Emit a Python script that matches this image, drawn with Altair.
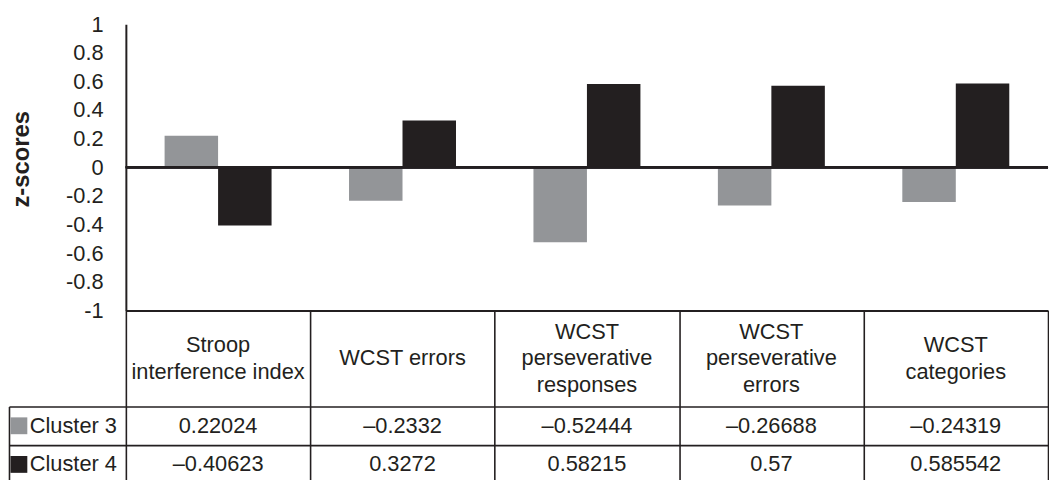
import altair as alt
import pandas as pd

# ---- data ----
categories = [
    "Stroop\ninterference index",
    "WCST errors",
    "WCST\nperseverative\nresponses",
    "WCST\nperseverative\nerrors",
    "WCST\ncategories",
]
clusters = ["Cluster 3", "Cluster 4"]
cluster3 = [0.22024, -0.2332, -0.52444, -0.26688, -0.24319]
cluster4 = [-0.40623, 0.3272, 0.58215, 0.57, 0.585542]
y_ticks = [1, 0.8, 0.6, 0.4, 0.2, 0, -0.2, -0.4, -0.6, -0.8, -1]

GRAY = "#939598"
BLACK = "#231f20"
LINE = "#231f20"
FONT = "Liberation Sans"

rows = []
for c, v3, v4 in zip(categories, cluster3, cluster4):
    rows.append({"cat": c, "cluster": "Cluster 3", "value": v3,
                 "label": str(v3).replace("-", "\u2013")})
    rows.append({"cat": c, "cluster": "Cluster 4", "value": v4,
                 "label": str(v4).replace("-", "\u2013")})
df = pd.DataFrame(rows)

# header: one record per text line, centred as a block in its cell
head_rows = []
for c in categories:
    parts = c.split("\n")
    n = len(parts)
    for i, p in enumerate(parts):
        head_rows.append({"cat": c, "line": p, "slot": (n - 1) / 2 - i})
df_head = pd.DataFrame(head_rows)

W = 931
HEAD_H = 97
LINE_H = 27
color_scale = alt.Scale(domain=clusters, range=[GRAY, BLACK])

# ---- bar chart ----
base = alt.Chart(df)
bars = base.mark_bar().encode(
    x=alt.X("cat:N", sort=categories,
            scale=alt.Scale(paddingInner=0.42, paddingOuter=0.21),
            axis=alt.Axis(labels=False, ticks=False, domain=True, domainColor=LINE,
                          domainWidth=2, grid=False, title=None)),
    xOffset=alt.XOffset("cluster:N", sort=clusters,
                        scale=alt.Scale(paddingInner=0, paddingOuter=0)),
    y=alt.Y("value:Q", scale=alt.Scale(domain=[-1, 1], nice=False),
            axis=alt.Axis(values=y_ticks, tickCount=len(y_ticks),
                          labelExpr="datum.value + ''", ticks=False,
                          tickSize=0, labelPadding=23, labelFontSize=22, labelColor=BLACK,
                          labelFont=FONT, labelOverlap=False,
                          domain=True, domainColor=LINE,
                          domainWidth=2, grid=False, title="z-scores", titleFont=FONT,
                          titleFontSize=24, titleFontWeight="bold", titleColor=BLACK,
                          titleAngle=270, titleX=-98, titleY=136,
                          titleBaseline="alphabetic", titleAlign="center")),
    color=alt.Color("cluster:N", scale=color_scale, legend=None),
)
zero = base.mark_rule(color=LINE, strokeWidth=2).encode(y=alt.datum(0))
top = alt.layer(bars, zero).properties(width=W, height=289)

# ---- header row ----
half = HEAD_H / 2 / LINE_H
header = alt.Chart(df_head).mark_text(
    font=FONT, fontSize=22, color=BLACK, align="center", baseline="middle"
).encode(
    x=alt.X("cat:N", sort=categories, scale=alt.Scale(paddingInner=0, paddingOuter=0),
            axis=alt.Axis(labels=False, ticks=False, domain=False, grid=True,
                          tickBand="extent", gridColor=LINE, gridWidth=1.6,
                          gridOpacity=1, title=None)),
    y=alt.Y("slot:Q", scale=alt.Scale(domain=[-half, half], nice=False, zero=False),
            axis=None),
    text="line:N",
).properties(width=W, height=HEAD_H)

# ---- value rows ----
vals = alt.Chart(df).mark_text(
    font=FONT, fontSize=22, color=BLACK, align="center", baseline="middle"
).encode(
    x=alt.X("cat:N", sort=categories, scale=alt.Scale(paddingInner=0, paddingOuter=0),
            axis=alt.Axis(labels=False, ticks=False, domain=False, grid=True,
                          tickBand="extent", gridColor=LINE, gridWidth=1.6,
                          gridOpacity=1, title=None)),
    y=alt.Y("cluster:N", sort=clusters, scale=alt.Scale(paddingInner=0, paddingOuter=0),
            axis=alt.Axis(orient="left", labels=False, domain=False, ticks=True,
                          tickSize=118, tickWidth=1.6, tickColor=LINE, tickBand="extent",
                          grid=True, gridColor=LINE, gridWidth=1.6, gridOpacity=1,
                          title=None)),
    text="label:N",
)
swatches = alt.Chart(df).mark_square(opacity=0).encode(
    y=alt.Y("cluster:N", sort=clusters,
            axis=alt.Axis(orient="left", offset=118, labels=False, ticks=False,
                          grid=False, domain=True, domainColor=LINE, domainWidth=1.6,
                          title=None)),
    color=alt.Color("cluster:N", scale=color_scale,
                    legend=alt.Legend(orient="none", legendX=-119, legendY=8.5, title=None,
                                      symbolType="square", symbolSize=289,
                                      symbolStrokeWidth=0, symbolOpacity=1,
                                      labelFontSize=22, labelFont=FONT, labelColor=BLACK,
                                      labelOffset=0, rowPadding=17, padding=0)),
)
table = alt.layer(vals, swatches).resolve_axis(y="independent").properties(width=W, height=78)

chart = alt.vconcat(top, header, table, spacing=0, bounds="flush").resolve_scale(
    color="independent"
).properties(
    padding={"left": 0, "top": 3, "right": 0, "bottom": 0}
).configure(font=FONT).configure_view(stroke=None)

chart.save("out.html", embed_options={"renderer": "svg", "actions": False})
